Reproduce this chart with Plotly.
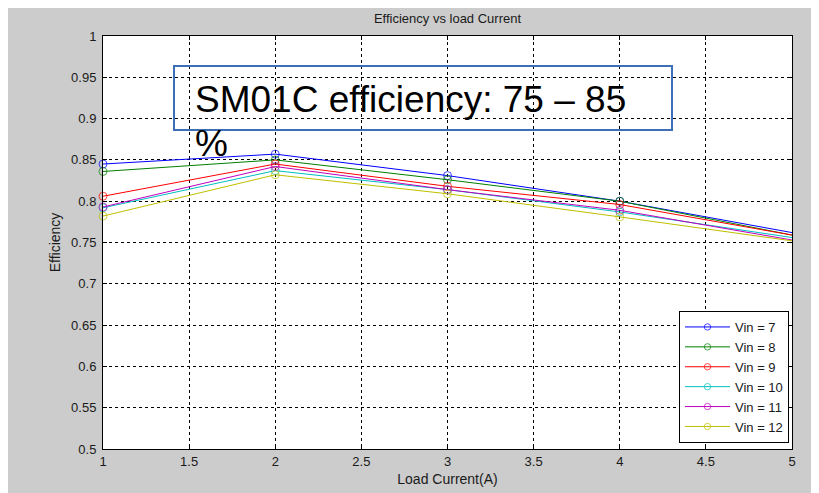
import plotly.graph_objects as go

load_current = [1, 2, 3, 4, 5]
series_names = ["Vin = 7", "Vin = 8", "Vin = 9", "Vin = 10", "Vin = 11", "Vin = 12"]
eff_vin7 = [0.845, 0.857, 0.831, 0.800, 0.762]
eff_vin8 = [0.836, 0.850, 0.826, 0.800, 0.759]
eff_vin9 = [0.806, 0.845, 0.818, 0.796, 0.759]
eff_vin10 = [0.792, 0.837, 0.814, 0.787, 0.756]
eff_vin11 = [0.793, 0.842, 0.814, 0.789, 0.753]
eff_vin12 = [0.782, 0.832, 0.809, 0.781, 0.752]
series_values = [eff_vin7, eff_vin8, eff_vin9, eff_vin10, eff_vin11, eff_vin12]
colors = ["#0000ff", "#008000", "#ff0000", "#00bfbf", "#bf00bf", "#bfbf00"]
y_ticks = [0.5, 0.55, 0.6, 0.65, 0.7, 0.75, 0.8, 0.85, 0.9, 0.95, 1]
y_ticktext = ["0.5", "0.55", "0.6", "0.65", "0.7", "0.75", "0.8", "0.85", "0.9", "0.95", "1"]
x_ticks = [1, 1.5, 2, 2.5, 3, 3.5, 4, 4.5, 5]
x_ticktext = ["1", "1.5", "2", "2.5", "3", "3.5", "4", "4.5", "5"]

FONT = "Liberation Sans, Arial, sans-serif"
TXT = "#1a1a1a"

fig = go.Figure()
for name, vals, col in zip(series_names, series_values, colors):
    fig.add_trace(go.Scatter(
        x=load_current, y=vals, name=name, mode="lines+markers",
        line=dict(color=col, width=1),
        marker=dict(symbol="circle-open", size=[8, 8, 8, 8, 0], color=col, line=dict(width=1, color=col)),
        cliponaxis=False,
    ))

# page body has an 8px margin; the figure sits at (8, 8) in the window
OFF = 8
W, H = 819, 493
L, T = 95, 28
pw, ph = 689, 413
R, B = W - L - pw, H - T - ph

def px(x):  # window x -> paper x
    return (x - OFF - L) / pw

def py(y):  # window y -> paper y
    return (T + ph - (y - OFF)) / ph

fig.update_layout(
    width=W, height=H,
    margin=dict(l=L, r=R, t=T, b=B, autoexpand=False),
    paper_bgcolor="#cccccc", plot_bgcolor="white",
    font=dict(family=FONT, size=13, color=TXT),
    title=dict(text="Efficiency vs load Current", x=(L + pw / 2) / W, xanchor="center",
               y=1 - (18 - OFF) / H, yanchor="middle", font=dict(size=13, color=TXT)),
    showlegend=True,
    legend=dict(x=px(789), y=py(443), xanchor="right", yanchor="bottom",
                bgcolor="white", bordercolor="black", borderwidth=1,
                font=dict(size=13, color=TXT), itemwidth=45, tracegroupgap=0),
    xaxis=dict(range=[1, 5], tickvals=x_ticks, ticktext=x_ticktext,
               showgrid=True, gridcolor="black", griddash="3px,3px", gridwidth=1,
               showline=True, linecolor="black", linewidth=1, mirror="allticks",
               ticks="inside", ticklen=4, tickcolor="black", zeroline=False,
               tickfont=dict(size=13, color=TXT),
               title=dict(text="Load Current(A)", font=dict(size=14, color=TXT), standoff=6)),
    yaxis=dict(range=[0.5, 1], tickvals=y_ticks, ticktext=y_ticktext,
               showgrid=True, gridcolor="black", griddash="3px,3px", gridwidth=1,
               showline=True, linecolor="black", linewidth=1, mirror="allticks",
               ticks="inside", ticklen=4, tickcolor="black", zeroline=False,
               tickfont=dict(size=13, color=TXT), ticklabelstandoff=3,
               title=dict(text="Efficiency", font=dict(size=14, color=TXT), standoff=7)),
    shapes=[
        dict(type="rect", xref="paper", yref="paper", x0=px(174), x1=px(672), y0=py(130), y1=py(66),
             fillcolor="rgba(0,0,0,0)", line=dict(color="#3c6fb6", width=2), layer="above"),
    ],
    annotations=[
        dict(text="SM01C efficiency: 75 – 85", xref="paper", yref="paper", x=px(193), y=py(100),
             xanchor="left", yanchor="middle", showarrow=False,
             font=dict(family=FONT, size=37, color="black")),
        dict(text="%", xref="paper", yref="paper", x=px(193), y=py(143),
             xanchor="left", yanchor="middle", showarrow=False,
             font=dict(family=FONT, size=37, color="black")),
    ],
)

fig.write_html("out.html")
